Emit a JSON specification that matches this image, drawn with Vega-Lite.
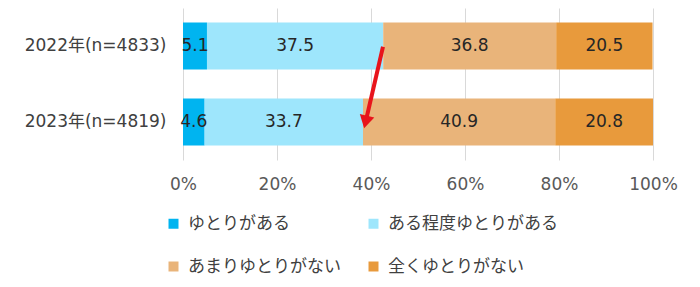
{
  "$schema": "https://vega.github.io/schema/vega-lite/v6.json",
  "width": 470,
  "height": 152,
  "autosize": {"type": "none"},
  "padding": {"left": 183, "top": 8, "right": 47, "bottom": 127},
  "background": "white",
  "config": {
    "font": "DejaVu Sans, Noto Sans CJK JP",
    "view": {"stroke": null}
  },
  "datasets": {
    "bars": [
      {"year": "2022年(n=4833)", "cat": "ゆとりがある", "order": 1, "value": 5.1},
      {"year": "2022年(n=4833)", "cat": "ある程度ゆとりがある", "order": 2, "value": 37.5},
      {"year": "2022年(n=4833)", "cat": "あまりゆとりがない", "order": 3, "value": 36.8},
      {"year": "2022年(n=4833)", "cat": "全くゆとりがない", "order": 4, "value": 20.5},
      {"year": "2023年(n=4819)", "cat": "ゆとりがある", "order": 1, "value": 4.6},
      {"year": "2023年(n=4819)", "cat": "ある程度ゆとりがある", "order": 2, "value": 33.7},
      {"year": "2023年(n=4819)", "cat": "あまりゆとりがない", "order": 3, "value": 40.9},
      {"year": "2023年(n=4819)", "cat": "全くゆとりがない", "order": 4, "value": 20.8}
    ],
    "arrow": [
      {"x": 42.55, "y": 0.51, "x2": 38.85, "y2": 1.5}
    ]
  },
  "layer": [
    {
      "data": {"name": "bars"},
      "transform": [
        {"stack": "value", "groupby": ["year"], "sort": [{"field": "order", "order": "ascending"}], "as": ["x0", "x1"]},
        {"calculate": "(datum.x0 + datum.x1) / 2", "as": "mid"}
      ],
      "layer": [
        {
          "mark": {"type": "bar"},
          "encoding": {
            "y": {
              "field": "year", "type": "nominal",
              "scale": {"paddingInner": 0.38, "paddingOuter": 0.19},
              "axis": {"title": null, "domain": false, "ticks": false, "labelPadding": 17, "labelFontSize": 17, "labelColor": "#404040", "labelFont": "DejaVu Sans, Noto Sans CJK JP", "labelLimit": 0}
            },
            "x": {
              "field": "x0", "type": "quantitative",
              "scale": {"domain": [0, 100]},
              "axis": {"title": null, "values": [0, 20, 40, 60, 80, 100], "labelExpr": "datum.value + '%'", "domain": false, "ticks": false, "grid": true, "gridColor": "#D9D9D9", "gridWidth": 1, "labelPadding": 16, "labelFontSize": 17, "labelColor": "#595959", "labelFont": "DejaVu Sans, Noto Sans CJK JP", "labelFlush": false}
            },
            "x2": {"field": "x1"},
            "color": {
              "field": "cat", "type": "nominal",
              "scale": {
                "domain": ["ゆとりがある", "ある程度ゆとりがある", "あまりゆとりがない", "全くゆとりがない"],
                "range": ["#00B4F0", "#9EE6FC", "#E9B47A", "#E89A3C"]
              },
              "legend": {
                "title": null,
                "orient": "none",
                "legendX": -18,
                "legendY": 207,
                "columns": 2,
                "direction": "horizontal",
                "symbolType": "square",
                "symbolSize": 100,
                "symbolStrokeWidth": 0,
                "labelFontSize": 17,
                "labelColor": "#404040",
                "labelFont": "Noto Sans CJK JP",
                "labelLimit": 0,
                "labelOffset": 6,
                "columnPadding": 24,
                "rowPadding": 25,
                "padding": 0
              }
            },
            "order": {"field": "order"}
          }
        },
        {
          "mark": {"type": "text", "fontSize": 17, "color": "#262626", "font": "DejaVu Sans, Noto Sans CJK JP"},
          "encoding": {
            "y": {"field": "year", "type": "nominal"},
            "x": {"field": "mid", "type": "quantitative"},
            "text": {"field": "value", "type": "quantitative", "format": ".1f"}
          }
        }
      ]
    },
    {
      "data": {"name": "arrow"},
      "layer": [
        {
          "mark": {"type": "rule", "color": "#E8141B", "strokeWidth": 4},
          "encoding": {
            "x": {"field": "x", "type": "quantitative"},
            "x2": {"field": "x2"},
            "y": {"field": "y", "type": "quantitative", "scale": {"domain": [0, 2], "reverse": true}, "axis": null},
            "y2": {"field": "y2"}
          }
        },
        {
          "mark": {"type": "point", "shape": "triangle-down", "filled": true, "color": "#E8141B", "opacity": 1, "size": 220, "angle": 13},
          "encoding": {
            "x": {"field": "x2", "type": "quantitative"},
            "y": {"field": "y2", "type": "quantitative", "scale": {"domain": [0, 2], "reverse": true}, "axis": null}
          }
        }
      ]
    }
  ],
  "resolve": {"scale": {"y": "independent"}}
}
